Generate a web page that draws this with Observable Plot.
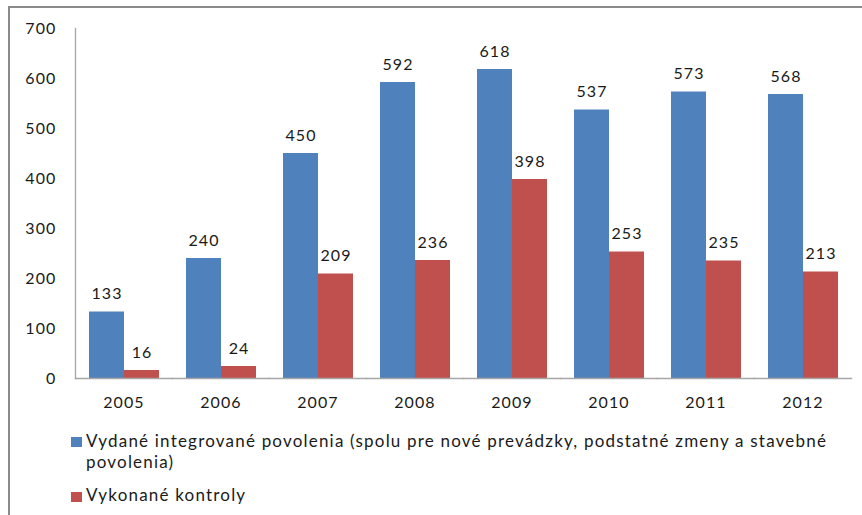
<!DOCTYPE html>
<html>
<head>
<meta charset="utf-8">
<script src="https://cdn.jsdelivr.net/npm/d3@7"></script>
<script src="https://cdn.jsdelivr.net/npm/@observablehq/plot@0.6"></script>
<style>
  html, body { margin: 0; padding: 0; background: #fff; }
  body { width: 862px; height: 515px; overflow: hidden; position: relative; font-family: Lato, "Open Sans", sans-serif; }
  #frame { position: absolute; left: 8px; top: 6px; width: 900px; height: 600px; border-left: 2px solid #8a8a8a; border-top: 2px solid #8a8a8a; }
  #chart { position: absolute; left: 0; top: 0; }
  .leg { position: absolute; font-size: 17px; letter-spacing: 1.2px; color: #1a1a1a; white-space: nowrap; }
  .sw { position: absolute; width: 11px; height: 10px; }
</style>
</head>
<body>
<div id="frame"></div>
<div id="chart"></div>
<div class="sw" style="left:71px;top:437px;background:#4F81BD"></div>
<div class="leg" id="l1" style="left:86px;top:430px;line-height:21px"></div>
<div class="sw" style="left:71px;top:492px;background:#C0504D"></div>
<div class="leg" id="l2" style="left:86px;top:484px;line-height:21px"></div>
<script>
const years = ["2005", "2006", "2007", "2008", "2009", "2010", "2011", "2012"];
const seriesNames = [
  "Vydané integrované povolenia (spolu pre nové prevádzky, podstatné zmeny a stavebné povolenia)",
  "Vykonané kontroly"
];
const permits = [133, 240, 450, 592, 618, 537, 573, 568];
const inspections = [16, 24, 209, 236, 398, 253, 235, 213];
const yTicks = [0, 100, 200, 300, 400, 500, 600, 700];
const colors = ["#4F81BD", "#C0504D"];

const data = [];
years.forEach((y, i) => {
  data.push({year: y, series: seriesNames[0], value: permits[i]});
  data.push({year: y, series: seriesNames[1], value: inspections[i]});
});

const chart = Plot.plot({
  width: 862,
  height: 420,
  marginLeft: 72,
  marginRight: 9,
  marginTop: 28,
  marginBottom: 42,
  style: {fontFamily: "Lato, 'Open Sans', sans-serif", fontSize: "16px", letterSpacing: "1.1px", color: "#1a1a1a", background: "transparent"},
  fx: {domain: years, padding: 0, label: null},
  x: {domain: seriesNames, paddingInner: 0, paddingOuter: 0.355, axis: null},
  y: {domain: [0, 700], label: null},
  color: {domain: seriesNames, range: colors},
  marks: [
    Plot.barY(data, {fx: "year", x: "series", y: "value", fill: "series"}),
    Plot.text(data, {fx: "year", x: "series", y: "value", text: d => String(d.value), dy: -18, fontSize: 16, fill: "#1a1a1a"}),
    Plot.frame({anchor: "bottom", stroke: "#a6a6a6", strokeWidth: 1.3}),
    Plot.frame({anchor: "left", facetAnchor: "left", stroke: "#a6a6a6", strokeWidth: 1.3}),
    Plot.axisY({ticks: yTicks, tickSize: 0, tickPadding: 19, label: null, fontSize: 16}),
    Plot.axisFx({anchor: "bottom", tickSize: 0, tickPadding: 18, label: null, fontSize: 16})
  ]
});
document.getElementById("chart").appendChild(chart);

document.getElementById("l1").innerHTML = "Vydané integrované povolenia (spolu pre nové prevádzky, podstatné zmeny a stavebné<br>povolenia)";
document.getElementById("l2").textContent = seriesNames[1];
</script>
</body>
</html>
